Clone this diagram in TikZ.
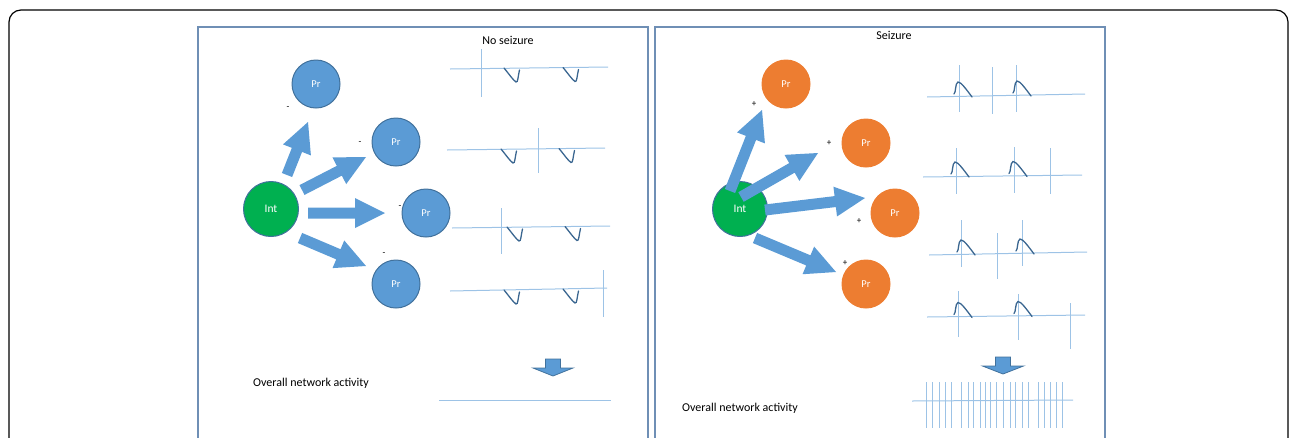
\documentclass[tikz,border=0pt]{standalone}
\usepackage{fontspec}
\setmainfont{Carlito}
\usetikzlibrary{calc}
\definecolor{arrblue}{HTML}{5B9BD5}
\definecolor{prborder}{HTML}{41719C}
\definecolor{panelc}{HTML}{6F8FB5}
\definecolor{tracec}{HTML}{9DC3E6}
\definecolor{wavec}{HTML}{3A6690}
\definecolor{intgreen}{HTML}{00B050}
\definecolor{prorange}{HTML}{ED7D31}
\tikzset{
 prnode/.style={circle, fill=arrblue, draw=prborder, line width=1pt, minimum size=48pt, inner sep=0pt, text=white, font=\fontsize{10.5}{12}\selectfont},
 prorg/.style={prnode, fill=prorange, draw=prorange},
 intnode/.style={circle, fill=intgreen, draw=prborder, line width=1pt, minimum size=55pt, inner sep=0pt, text=white, font=\fontsize{11.5}{13}\selectfont},
 panel/.style={draw=panelc, line width=1.2pt},
 trace/.style={draw=tracec, line width=1pt},
 wave/.style={draw=wavec, line width=1.3pt, line cap=round},
 sign/.style={font=\fontsize{9}{10}\selectfont, inner sep=0pt},
 lbl/.style={font=\fontsize{12}{14}\selectfont, inner sep=0pt},
 bigarr/.style={fill=arrblue},
 downarr/.style={fill=arrblue, draw=prborder, line width=0.8pt},
}
\newcommand\blockarr[2]{%
 \coordinate (#1-#2-h) at ($(#2)!30pt!(#1)$);
 \fill[bigarr] ($(#1)!5.5pt!90:(#2)$) -- ($(#1-#2-h)!5.5pt!90:(#2)$) -- ($(#1-#2-h)!15pt!90:(#2)$) -- (#2) -- ($(#1-#2-h)!15pt!-90:(#2)$) -- ($(#1-#2-h)!5.5pt!-90:(#2)$) -- ($(#1)!5.5pt!-90:(#2)$) -- cycle;
}
\newcommand\downarr[4]{% name, x, top y, head half width
 \draw[downarr] (#2-7.5,#3) -- (#2+7.5,#3) -- (#2+7.5,#3+9) -- (#2+#4,#3+9) -- (#2,#3+17) -- (#2-#4,#3+9) -- (#2-7.5,#3+9) -- cycle;
}
\newcommand\dip[2]{%
 \draw[wave] (#1,#2) .. controls (#1+5,#2+6) and (#1+9,#2+12) .. (#1+12,#2+14) .. controls (#1+14,#2+15) and (#1+14,#2+8) .. (#1+15.5,#2+2);
}
\newcommand\spk[2]{%
 \draw[wave] (#1,#2-2) .. controls (#1+2,#2-3) and (#1+1,#2-13) .. (#1+4,#2-14) .. controls (#1+7,#2-14) and (#1+12,#2-7) .. (#1+18,#2+1);
}
\newcommand\vbar[3]{\draw[trace] (#1,#2) -- (#1,#3);}
\begin{document}
\begin{tikzpicture}[x=1pt,y=-1pt]
\useasboundingbox (0,0) rectangle (1290,437);
\clip (0,0) rectangle (1290,437);
% frames
\draw[black, line width=1.2pt, rounded corners=12pt] (9,470) -- (9,10) -- (1288,10) -- (1288,470);
\draw[panel] (198,470) -- (198,27) -- (648,27) -- (648,470);
\draw[panel] (655,470) -- (655,27) -- (1105,27) -- (1105,470);
% titles
\node[lbl] (tnos) at (508,40) {No seizure};
\node[lbl] (tsz) at (894,35) {Seizure};
\node[lbl, anchor=west] (onl) at (253,383) {Overall network activity};
\node[lbl, anchor=west] (onr) at (682,408) {Overall network activity};
% left network
\node[intnode] (intl) at (271,209) {Int};
\node[prnode] (pl1) at (316,84) {Pr};
\node[prnode] (pl2) at (396,142) {Pr};
\node[prnode] (pl3) at (426,213) {Pr};
\node[prnode] (pl4) at (396,284) {Pr};
\node[sign] (sl1) at (288,108) {-};
\node[sign] (sl2) at (360,143) {-};
\node[sign] (sl3) at (400,207) {-};
\node[sign] (sl4) at (384,254) {-};
\coordinate (la1) at (287,175); \coordinate (lb1) at (308,122);
\coordinate (la2) at (302,190); \coordinate (lb2) at (366,157);
\coordinate (la3) at (308,213); \coordinate (lb3) at (385,213);
\coordinate (la4) at (300,238); \coordinate (lb4) at (366,266);
\blockarr{la1}{lb1}
\blockarr{la2}{lb2}
\blockarr{la3}{lb3}
\blockarr{la4}{lb4}
% right network
\node[intnode] (intr) at (740,209) {Int};
\node[prorg] (pr1) at (786,84) {Pr};
\node[prorg] (pr2) at (866,143) {Pr};
\node[prorg] (pr3) at (895,213) {Pr};
\node[prorg] (pr4) at (866,284) {Pr};
\node[sign] (sr1) at (754,104) {+};
\node[sign] (sr2) at (829,143) {+};
\node[sign] (sr3) at (859,221) {+};
\node[sign] (sr4) at (845,263) {+};
\coordinate (ra1) at (730,191); \coordinate (rb1) at (762,110);
\coordinate (ra2) at (741,197); \coordinate (rb2) at (818,153);
\coordinate (ra3) at (765,210); \coordinate (rb3) at (865,198);
\coordinate (ra4) at (755,238); \coordinate (rb4) at (836,272);
\blockarr{ra1}{rb1}
\blockarr{ra2}{rb2}
\blockarr{ra3}{rb3}
\blockarr{ra4}{rb4}
% left traces
\draw[trace] (450,69) -- (608,67); \vbar{481}{49}{97}
\dip{504}{68} \dip{563}{67.5}
\draw[trace] (447,150) -- (605,148); \vbar{538}{128}{173}
\dip{501}{149} \dip{559}{148.5}
\draw[trace] (452,228) -- (610,226); \vbar{501}{208}{254}
\dip{507}{227} \dip{565}{226.5}
\draw[trace] (450,291) -- (607,288); \vbar{603}{270}{317}
\dip{504}{290} \dip{563}{289}
\downarr{dl}{553}{359}{20}
\draw[trace] (439,400) -- (611,400);
% right traces
\draw[trace] (927,97) -- (1085,94);
\vbar{959}{65}{112} \vbar{992}{67}{114} \vbar{1016}{65}{112}
\spk{954}{96} \spk{1013}{95}
\draw[trace] (923,177) -- (1082,175);
\vbar{956}{148}{194} \vbar{1014}{147}{193} \vbar{1050}{148}{194}
\spk{951}{176} \spk{1009}{175.5}
\draw[trace] (929,255) -- (1087,252);
\vbar{961}{220}{267} \vbar{997}{233}{279} \vbar{1022}{220}{266}
\spk{957}{254} \spk{1016}{253}
\draw[trace] (927,317) -- (1085,315);
\vbar{958}{291}{337} \vbar{1018}{294}{340} \vbar{1070}{303}{349}
\spk{954}{316.5} \spk{1014}{315.5}
\downarr{dr}{1003}{357}{20.5}
\draw[trace] (912,401) -- (1073,400);
\foreach \xx in {926.7,932.7,939,945,951,961.7,968.3,973.3,980,985,990.7,996.7,1003.3,1010,1015.7,1022.3,1028.3,1038.3,1044.3,1050,1056,1062.7}
 \draw[trace] (\xx,382) -- (\xx,428);
\end{tikzpicture}
\end{document}
